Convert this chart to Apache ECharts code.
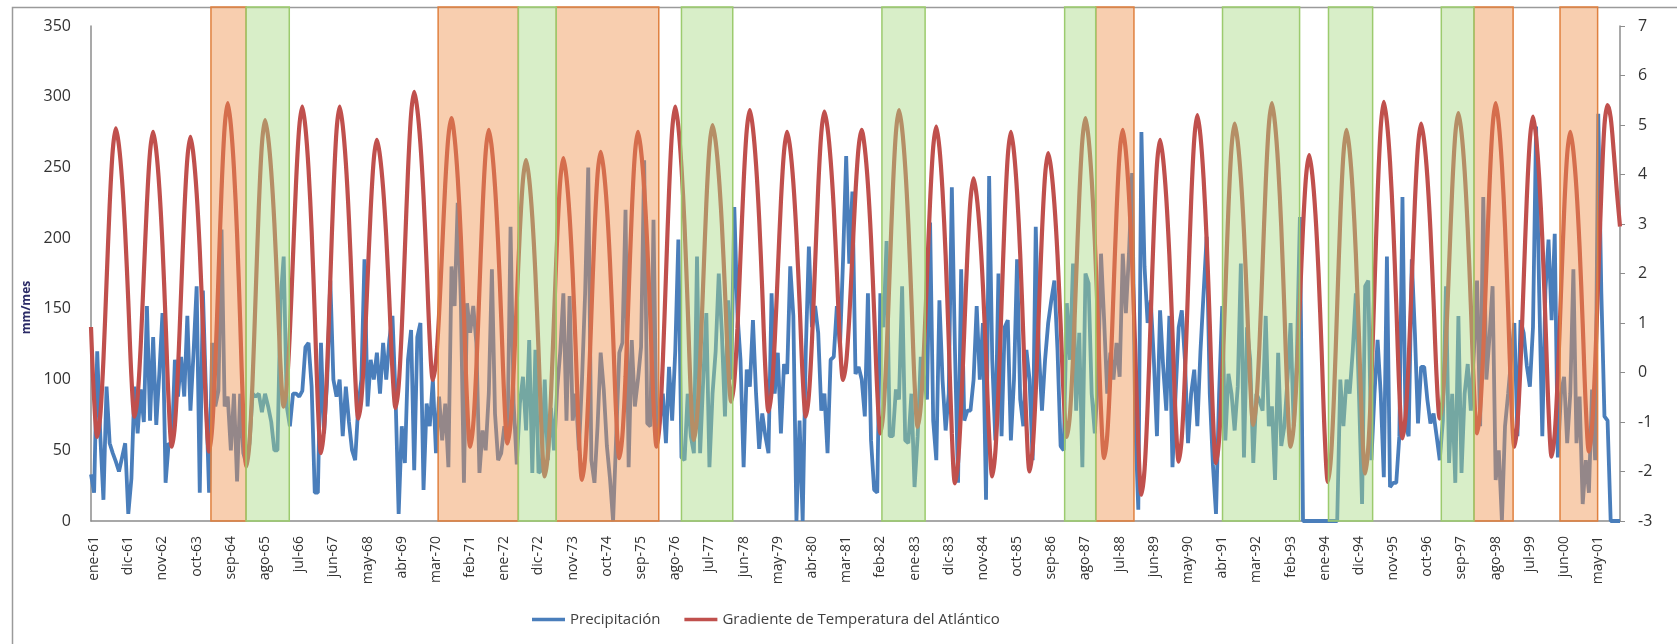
<!DOCTYPE html>
<html>
<head>
<meta charset="utf-8">
<script src="https://cdn.jsdelivr.net/npm/echarts@6/dist/echarts.min.js"></script>
<style>
html,body{margin:0;padding:0;background:#ffffff;}
#chart{width:1677px;height:644px;}
</style>
</head>
<body>
<div id="chart"></div>
<script>
// ---------- DATA ----------
const monthNames = ['ene','feb','mar','abr','may','jun','jul','ago','sep','oct','nov','dic'];
const firstYear = 61, lastYear = 101; // 1961 .. 2001
// categories: dic-60, then every month ene-61 .. dic-01
const categories = ['dic-60'];
for (let y = firstYear; y <= lastYear; y++) {
  for (let m = 0; m < 12; m++) {
    categories.push(monthNames[m] + '-' + String(y % 100).padStart(2, '0'));
  }
}

// Precipitación (mm/mes)
const precipitacion = [
  33, 20, 120, 60, 15, 95, 55, 48, 42, 35, 45, 55,
  5, 30, 95, 62, 93, 70, 152, 71, 130, 68, 105, 147,
  27, 55, 53, 114, 88, 116, 88, 145, 78, 119, 166, 20,
  163, 90, 20, 126, 81, 92, 206, 81, 88, 50, 90, 28,
  90, 48, 40, 55, 90, 88, 90, 77, 90, 81, 70, 50,
  50, 156, 187, 81, 67, 90, 90, 88, 92, 123, 126, 95,
  20, 20, 126, 62, 100, 170, 100, 88, 100, 60, 95, 70,
  50, 43, 81, 100, 185, 81, 114, 100, 119, 90, 126, 100,
  128, 145, 88, 5, 67, 41, 114, 135, 36, 130, 140, 22,
  83, 67, 100, 48, 88, 57, 83, 38, 180, 152, 225, 156,
  27, 154, 133, 152, 126, 34, 64, 50, 90, 178, 76, 43,
  48, 67, 55, 208, 83, 40, 83, 102, 64, 128, 34, 121,
  34, 36, 100, 43, 80, 50, 93, 120, 161, 71, 159, 71,
  90, 50, 100, 161, 250, 43, 27, 67, 119, 93, 53, 30,
  0, 60, 119, 126, 220, 38, 128, 81, 100, 123, 255, 69,
  67, 213, 55, 71, 90, 55, 109, 71, 120, 199, 45, 43,
  90, 60, 48, 187, 48, 100, 147, 38, 90, 120, 175, 133,
  74, 156, 100, 222, 147, 114, 38, 107, 95, 142, 90, 51,
  76, 60, 48, 161, 90, 119, 62, 111, 104, 180, 145, 0,
  71, 0, 120, 194, 137, 152, 133, 78, 90, 48, 114, 116,
  152, 123, 185, 258, 182, 233, 104, 109, 100, 74, 161, 57,
  22, 20, 161, 137, 198, 60, 60, 93, 86, 166, 57, 55,
  90, 24, 60, 116, 100, 86, 211, 71, 43, 156, 100, 64,
  90, 236, 121, 27, 178, 71, 78, 78, 100, 152, 100, 140,
  15, 244, 114, 57, 175, 60, 137, 142, 57, 100, 185, 86,
  67, 121, 100, 43, 208, 121, 78, 114, 140, 156, 170, 121,
  53, 50, 154, 114, 182, 78, 133, 38, 175, 168, 90, 62,
  100, 189, 142, 90, 119, 100, 126, 102, 189, 147, 189, 246,
  71, 8, 275, 180, 140, 156, 114, 60, 149, 109, 78, 145,
  38, 90, 137, 149, 114, 55, 90, 107, 67, 120, 161, 201,
  90, 40, 5, 90, 152, 57, 104, 90, 64, 95, 182, 45,
  137, 114, 41, 90, 85, 78, 145, 67, 81, 29, 119, 53,
  67, 100, 140, 67, 114, 215, 0, 0, 0, 0, 0, 0,
  0, 0, 0, 0, 0, 0, 100, 67, 100, 90, 120, 161,
  90, 12, 166, 170, 43, 90, 128, 90, 31, 187, 24, 27,
  27, 60, 229, 67, 60, 185, 133, 69, 109, 109, 86, 69,
  76, 60, 43, 71, 166, 41, 90, 27, 145, 34, 90, 111,
  78, 120, 170, 67, 229, 100, 130, 166, 29, 50, 0, 67,
  90, 115, 140, 60, 142, 133, 110, 95, 137, 279, 161, 60,
  163, 199, 142, 203, 45, 90, 102, 55, 90, 178, 55, 88,
  12, 43, 20, 93, 43, 288, 161, 74, 71, 0, 0, 0,
  0
];

// Gradiente de Temperatura del Atlántico
const gradiente = [
  0.92, -0.54, -1.30, -0.86, 0.26, 1.82, 3.37, 4.49, 4.93, 4.58, 3.88, 2.83,
  1.44, -0.08, -0.89, -0.49, 0.55, 1.99, 3.42, 4.46, 4.86, 4.48, 3.72, 2.57,
  1.04, -0.61, -1.50, -1.06, 0.07, 1.63, 3.20, 4.32, 4.76, 4.38, 3.62, 2.47,
  0.94, -0.71, -1.60, -1.11, 0.16, 1.92, 3.68, 4.95, 5.44, 5.00, 4.12, 2.80,
  1.04, -0.87, -1.90, -1.41, -0.15, 1.60, 3.35, 4.61, 5.10, 4.75, 4.06, 3.02,
  1.63, 0.12, -0.69, -0.27, 0.83, 2.34, 3.86, 4.95, 5.37, 4.95, 4.11, 2.85,
  1.17, -0.65, -1.63, -1.14, 0.12, 1.87, 3.62, 4.88, 5.37, 4.99, 4.24, 3.10,
  1.59, -0.05, -0.93, -0.54, 0.48, 1.89, 3.29, 4.31, 4.70, 4.37, 3.72, 2.75,
  1.45, 0.04, -0.72, -0.27, 0.88, 2.48, 4.07, 5.22, 5.67, 5.32, 4.62, 3.57,
  2.18, 0.66, -0.15, 0.22, 1.17, 2.50, 3.82, 4.77, 5.14, 4.74, 3.94, 2.75,
  1.16, -0.57, -1.50, -1.05, 0.10, 1.70, 3.30, 4.45, 4.90, 4.52, 3.76, 2.62,
  1.10, -0.54, -1.43, -1.03, 0.00, 1.43, 2.86, 3.89, 4.29, 3.91, 3.14, 1.99,
  0.46, -1.21, -2.10, -1.65, -0.49, 1.12, 2.72, 3.88, 4.33, 3.94, 3.16, 1.99,
  0.43, -1.26, -2.17, -1.71, -0.51, 1.15, 2.80, 4.00, 4.46, 4.09, 3.35, 2.23,
  0.75, -0.86, -1.73, -1.27, -0.08, 1.57, 3.21, 4.40, 4.86, 4.48, 3.72, 2.57,
  1.04, -0.61, -1.50, -1.02, 0.22, 1.94, 3.65, 4.89, 5.37, 4.97, 4.16, 2.95,
  1.33, -0.42, -1.36, -0.91, 0.23, 1.82, 3.41, 4.55, 5.00, 4.66, 3.99, 2.99,
  1.65, 0.19, -0.59, -0.18, 0.88, 2.36, 3.83, 4.89, 5.30, 4.93, 4.20, 3.11,
  1.65, 0.06, -0.79, -0.39, 0.62, 2.04, 3.45, 4.46, 4.86, 4.52, 3.83, 2.79,
  1.41, -0.08, -0.89, -0.46, 0.65, 2.19, 3.73, 4.84, 5.27, 4.94, 4.29, 3.32,
  2.02, 0.61, -0.15, 0.20, 1.11, 2.38, 3.64, 4.55, 4.90, 4.53, 3.80, 2.69,
  1.22, -0.37, -1.23, -0.77, 0.40, 2.04, 3.67, 4.84, 5.30, 4.92, 4.15, 3.00,
  1.46, -0.20, -1.10, -0.68, 0.42, 1.94, 3.45, 4.55, 4.97, 4.54, 3.67, 2.37,
  0.64, -1.23, -2.24, -1.81, -0.70, 0.84, 2.38, 3.49, 3.92, 3.56, 2.84, 1.75,
  0.31, -1.26, -2.10, -1.61, -0.36, 1.38, 3.12, 4.37, 4.86, 4.45, 3.63, 2.39,
  0.74, -1.04, -2.00, -1.55, -0.39, 1.22, 2.82, 3.98, 4.43, 4.09, 3.40, 2.37,
  0.99, -0.50, -1.30, -0.85, 0.31, 1.92, 3.53, 4.69, 5.14, 4.73, 3.90, 2.67,
  1.02, -0.77, -1.73, -1.27, -0.07, 1.59, 3.24, 4.44, 4.90, 4.46, 3.57, 2.25,
  0.48, -1.44, -2.47, -1.97, -0.68, 1.12, 2.91, 4.20, 4.70, 4.31, 3.53, 2.36,
  0.80, -0.89, -1.80, -1.31, -0.05, 1.70, 3.45, 4.71, 5.20, 4.78, 3.93, 2.67,
  0.98, -0.85, -1.83, -1.35, -0.11, 1.60, 3.32, 4.55, 5.03, 4.66, 3.93, 2.84,
  1.38, -0.21, -1.06, -0.60, 0.57, 2.19, 3.82, 4.99, 5.44, 5.02, 4.19, 2.94,
  1.28, -0.53, -1.50, -1.09, -0.03, 1.45, 2.92, 3.98, 4.39, 3.99, 3.20, 2.01,
  0.43, -1.29, -2.21, -1.71, -0.43, 1.35, 3.12, 4.40, 4.90, 4.48, 3.65, 2.40,
  0.74, -1.07, -2.04, -1.51, -0.16, 1.72, 3.59, 4.94, 5.47, 5.06, 4.25, 3.02,
  1.39, -0.38, -1.33, -0.88, 0.26, 1.85, 3.44, 4.58, 5.03, 4.67, 3.96, 2.88,
  1.45, -0.10, -0.93, -0.50, 0.61, 2.16, 3.70, 4.81, 5.24, 4.85, 4.08, 2.91,
  1.36, -0.32, -1.23, -0.76, 0.44, 2.11, 3.77, 4.97, 5.44, 5.02, 4.19, 2.94,
  1.28, -0.53, -1.50, -1.03, 0.17, 1.84, 3.50, 4.70, 5.17, 4.76, 3.93, 2.70,
  1.05, -0.74, -1.70, -1.24, -0.06, 1.58, 3.22, 4.40, 4.86, 4.47, 3.70, 2.53,
  0.98, -0.70, -1.60, -1.11, 0.15, 1.90, 3.65, 5.00, 5.40, 5.15, 4.45, 3.65,
  2.95
];

// Shaded periods (month index range on the time axis)
const periodosNaranja = [[38.6, 49.9], [111.7, 137.5], [149.7, 182.7], [323.3, 335.6], [445.0, 457.6], [472.7, 484.8]];
const periodosVerde = [[49.9, 63.8], [137.5, 149.7], [190.0, 206.5], [254.5, 268.4], [313.3, 323.3], [364.1, 388.9], [398.2, 412.4], [434.5, 445.0]];

const seriesNames = ['Precipitación', 'Gradiente de Temperatura del Atlántico'];

// ---------- CHART ----------
const chart = echarts.init(document.getElementById('chart'));
function areas(list, fill, border) {
  return list.map(p => [
    { coord: [p[0], 0], itemStyle: { color: fill, borderColor: border, borderWidth: 1.5 } },
    { coord: [p[1], 1] }
  ]);
}

const axisGrey = '#8c8c8c';
const labelColor = '#333333';

const option = {
  animation: false,
  backgroundColor: '#ffffff',
  graphic: [{
    type: 'rect', silent: true, z: -10,
    shape: { x: 12.5, y: 7.5, width: 1700, height: 700 },
    style: { fill: null, stroke: '#9a9a9a', lineWidth: 1.5 }
  }],
  grid: [
    { left: 91, right: 57, top: 26, bottom: 123, containLabel: false },
    { left: 91, right: 57, top: 7, bottom: 123, containLabel: false }
  ],
  legend: {
    data: seriesNames,
    left: 527, top: 607,
    icon: 'rect',
    itemWidth: 33, itemHeight: 3.5, itemGap: 24,
    textStyle: { fontFamily: 'Open Sans', fontSize: 15, color: '#404040' }
  },
  xAxis: [{
    type: 'category', gridIndex: 0,
    data: categories,
    boundaryGap: false,
    axisLine: { lineStyle: { color: axisGrey, width: 1.5 } },
    axisTick: { show: false },
    splitLine: { show: false },
    axisLabel: {
      interval: (i) => (i - 1) % 11 === 0,
      rotate: 90, margin: 15,
      fontFamily: 'Open Sans', fontSize: 14, color: labelColor
    }
  }, {
    type: 'value', gridIndex: 1, min: 0, max: categories.length - 1, show: false
  }],
  yAxis: [{
    type: 'value', gridIndex: 0, min: 0, max: 350, interval: 50,
    name: 'mm/mes', nameLocation: 'middle', nameRotate: 90, nameGap: 55,
    nameTextStyle: { fontFamily: 'Open Sans', fontSize: 12, fontWeight: 'bold', color: '#2a2a66', padding: [0, 68, 0, 0] },
    axisLine: { show: true, lineStyle: { color: axisGrey, width: 1.5 } },
    axisTick: { show: false },
    splitLine: { show: false },
    axisLabel: { margin: 20, fontFamily: 'Open Sans', fontSize: 16, color: labelColor }
  }, {
    type: 'value', gridIndex: 0, min: -3, max: 7, interval: 1, position: 'right',
    axisLine: { show: true, lineStyle: { color: axisGrey, width: 1.5 } },
    axisTick: { show: true, inside: false, length: 5, lineStyle: { color: axisGrey } },
    splitLine: { show: false },
    axisLabel: { margin: 18, fontFamily: 'Open Sans', fontSize: 16, color: labelColor }
  }, {
    type: 'value', gridIndex: 1, min: 0, max: 1, show: false
  }],
  series: [{
    name: seriesNames[0], type: 'line', xAxisIndex: 0, yAxisIndex: 0,
    data: precipitacion, symbol: 'none', z: 2,
    lineStyle: { color: '#4A7EBB', width: 3.8 }, itemStyle: { color: '#4A7EBB' }
  }, {
    name: seriesNames[1], type: 'line', xAxisIndex: 0, yAxisIndex: 1,
    data: gradiente, symbol: 'none', smooth: 0.3, z: 3,
    lineStyle: { color: '#C0504D', width: 4.2 }, itemStyle: { color: '#C0504D' }
  }, {
    name: 'naranja', type: 'line', xAxisIndex: 1, yAxisIndex: 2, data: [], silent: true,
    markArea: { silent: true, z: 6, data: areas(periodosNaranja, 'rgba(240,147,78,0.45)', '#E0803F') }
  }, {
    name: 'verde', type: 'line', xAxisIndex: 1, yAxisIndex: 2, data: [], silent: true,
    markArea: { silent: true, z: 6, data: areas(periodosVerde, 'rgba(169,218,133,0.45)', '#9CCB6E') }
  }]
};
chart.setOption(option);
</script>
</body>
</html>
